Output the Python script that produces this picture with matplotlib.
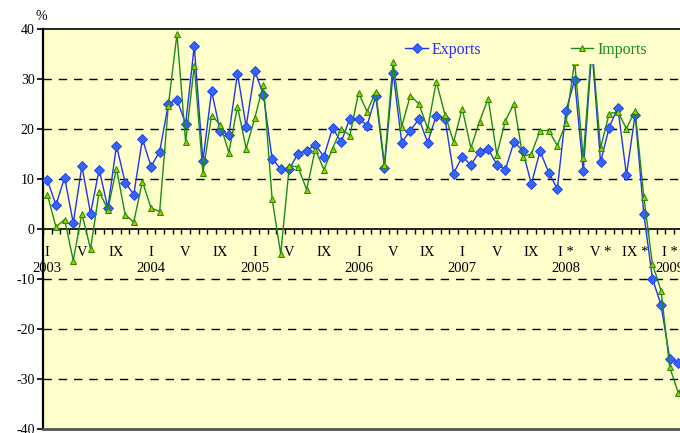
import numpy as np
import matplotlib.pyplot as plt

# monthly growth, % year on year, Jan 2003 - Mar 2009
years = [2003, 2004, 2005, 2006, 2007, 2008, 2009]
month_labels = {0: 'I', 4: 'V', 8: 'IX'}

exports = [
    9.8, 4.8, 10.3, 1.2, 12.6, 3.1, 11.9, 4.2, 16.7, 9.3, 6.9, 18.0,
    12.5, 15.5, 25.0, 25.9, 21.0, 36.6, 13.6, 27.6, 19.6, 18.9, 31.1, 20.5,
    31.6, 26.9, 14.1, 12.0, 12.0, 15.1, 15.7, 16.8, 14.5, 20.2, 17.4, 22.1,
    22.1, 20.7, 26.6, 12.3, 31.3, 17.3, 19.7, 22.0, 17.3, 22.7, 22.1, 11.1,
    14.5, 12.8, 15.5, 16.0, 12.9, 11.9, 17.5, 15.6, 9.0, 15.6, 11.3, 8.0,
    23.6, 29.8, 11.6, 36.0, 13.4, 20.3, 24.3, 10.8, 22.9, 3.1, -9.9, -15.2,
    -25.9, -26.7, -24.5,
]
imports = [
    6.9, 0.4, 1.9, -6.3, 3.1, -4.0, 7.5, 3.9, 12.1, 2.9, 1.4, 9.5,
    4.2, 3.5, 24.7, 39.0, 17.4, 32.7, 11.2, 22.7, 20.9, 15.3, 24.5, 16.1,
    22.2, 28.9, 6.1, -5.0, 12.7, 12.4, 7.9, 15.9, 11.9, 16.1, 20.1, 18.7,
    27.2, 23.5, 27.5, 12.9, 33.4, 20.5, 26.7, 25.0, 20.1, 29.5, 22.9, 17.4,
    24.1, 16.2, 21.5, 26.1, 14.9, 21.7, 25.1, 14.5, 15.0, 19.7, 19.7, 16.7,
    21.2, 33.5, 14.2, 37.0, 16.2, 23.1, 23.4, 20.1, 23.7, 6.5, -7.0, -12.3,
    -27.6, -32.8, -30.0,
]
preliminary_from = 60  # labels get an asterisk from Jan 2008

plt.rcParams['font.family'] = ['Liberation Serif', 'DejaVu Serif']
plt.rcParams['axes.unicode_minus'] = False

n = len(exports)
x = np.arange(n)

W, H = 680, 433
fig = plt.figure(figsize=(W / 100, H / 100), dpi=100)
step = 8.644
left_px, top_px, bottom_px = 43.0, 29.0, 429.0
ax = fig.add_axes([left_px / W, (H - bottom_px) / H, n * step / W, (bottom_px - top_px) / H])
ax.set_facecolor('#ffffcc')

for v in [-30, -20, -10, 10, 20, 30]:
    ax.axhline(v, color='black', lw=1.0, ls=(0, (6, 5)), zorder=1)

ax.plot(x, exports, color='#2233f5', lw=1.0, marker='D', ms=4.8,
        mfc='#3366ff', mec='#1a33ee', mew=0.6, label='Exports', zorder=3)
ax.plot(x, imports, color='#1a8a1a', lw=1.0, marker='^', ms=5,
        mfc='#99cc00', mec='#228800', mew=0.7, label='Imports', zorder=3)

ax.set_xlim(-0.5, n - 0.5)
ax.set_ylim(-40, 40)

# axis line at zero with month ticks hanging below it
ax.spines['bottom'].set_position(('data', 0))
ax.spines['bottom'].set_linewidth(1.2)
ax.spines['left'].set_linewidth(1.6)
ax.spines['top'].set_linewidth(1.2)
ax.spines['right'].set_visible(False)
ax.axhline(-40, color='#555555', lw=2.0, clip_on=False, zorder=4)

ax.set_xticks(np.arange(n + 1) - 0.5, minor=True)
ax.tick_params(axis='x', which='minor', direction='out', length=3.5, width=1.0)
pos, labs = [], []
for i in range(n):
    m = i % 12
    if m in month_labels:
        lab = month_labels[m]
        if i >= preliminary_from:
            lab += ' *'
        if m == 0:
            lab += '\n' + str(years[i // 12])
        pos.append(i)
        labs.append(lab)
ax.set_xticks(pos)
ax.set_xticklabels(labs, fontsize=10.5, linespacing=1.3)
ax.tick_params(axis='x', which='major', length=0, pad=12)

ax.set_yticks(np.arange(-40, 41, 10))
ax.tick_params(axis='y', direction='out', length=4, width=1.2, labelsize=10, pad=2)

fig.text(41 / W, 1 - 17 / H, '%', ha='center', va='center', fontsize=10)

leg = ax.legend(loc='center left', bbox_to_anchor=(391 / W, 1 - 50 / H),
                bbox_transform=fig.transFigure, ncol=2, fontsize=11.5,
                frameon=True, facecolor='#ffffcc', edgecolor='none', framealpha=1,
                handlelength=1.4, handletextpad=0.25, columnspacing=5.6, borderpad=0.4)
for t, c in zip(leg.get_texts(), ['#2a2aff', '#1a8a1a']):
    t.set_color(c)

fig.savefig('out.png', dpi=100)
